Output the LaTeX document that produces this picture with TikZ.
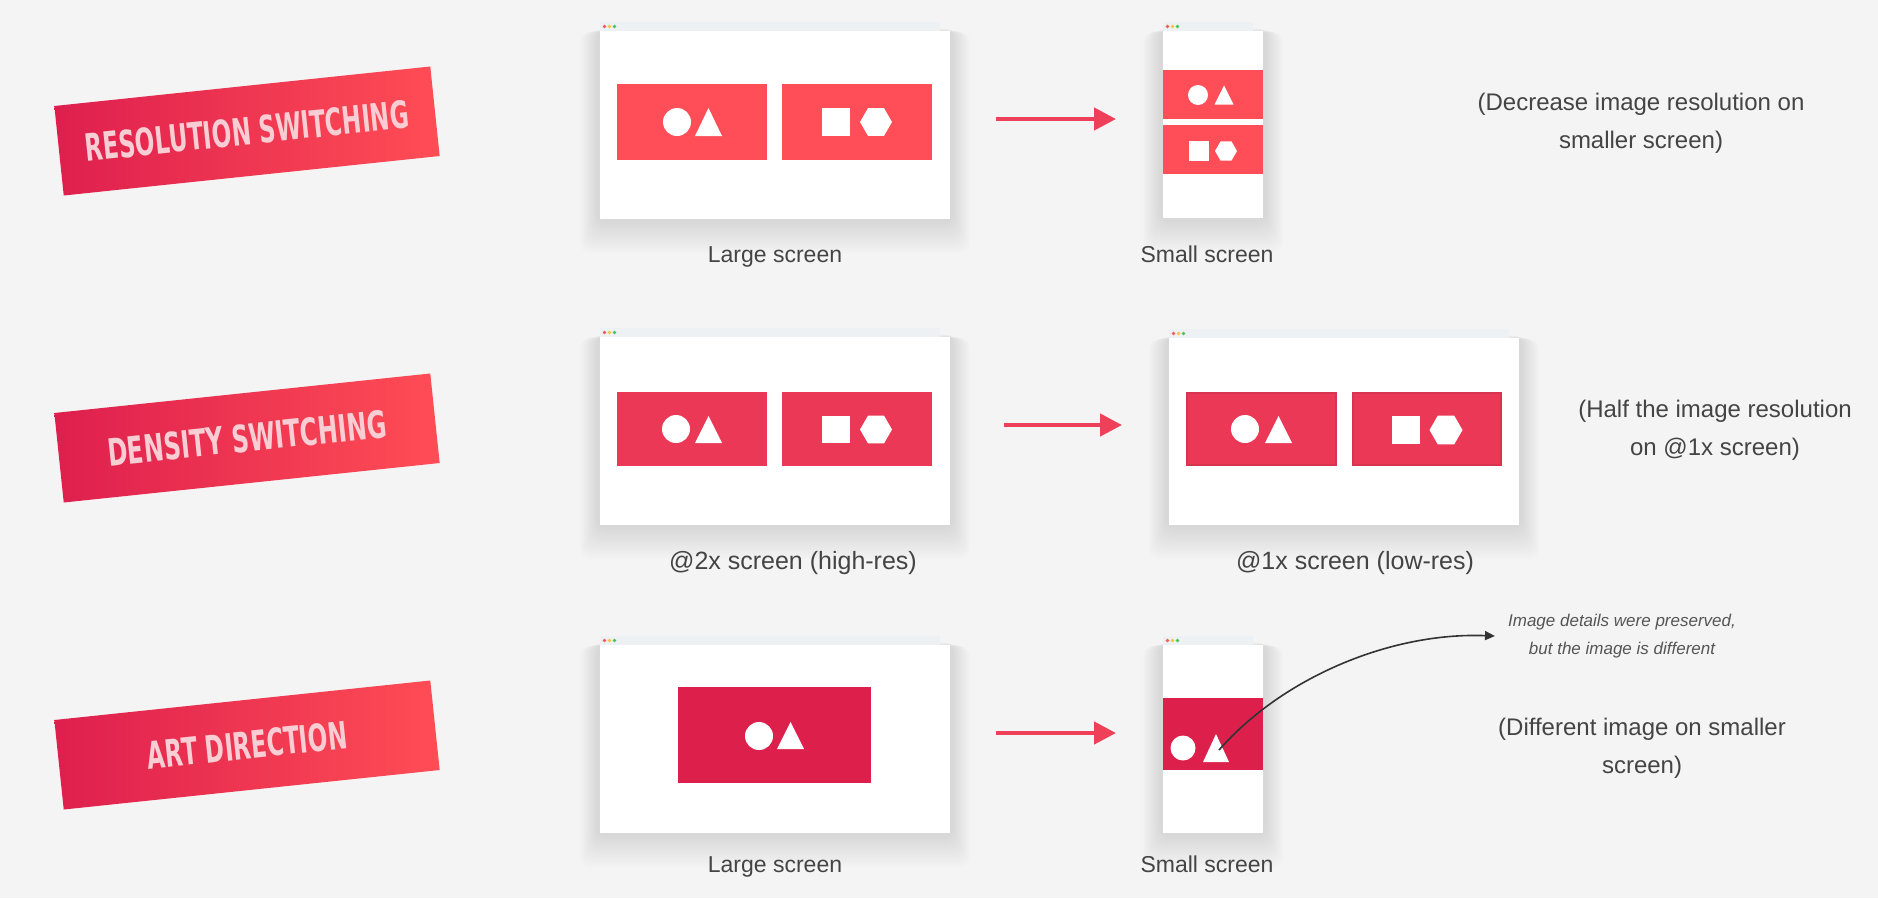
\documentclass[tikz,border=0pt]{standalone}
\usepackage{fontspec}
\usepackage{graphicx}
\setmainfont{Liberation Sans}
\newfontfamily\bannerfont{DejaVu Sans}
\usetikzlibrary{arrows.meta}

\definecolor{bg}{HTML}{F4F4F4}
\definecolor{redA}{HTML}{FF4E57}
\definecolor{redB}{HTML}{EC3857}
\definecolor{redBedge}{HTML}{D83450}
\definecolor{redC}{HTML}{DD1F4C}
\definecolor{arrowred}{HTML}{EE4058}
\definecolor{bannerL}{HTML}{DE1F4E}
\definecolor{bannerR}{HTML}{FF4D55}
\definecolor{bannertext}{HTML}{F8CDD3}
\definecolor{bartone}{HTML}{EEF1F4}
\definecolor{labelgray}{HTML}{444444}
\definecolor{notegray}{HTML}{555555}
\definecolor{dotred}{HTML}{F05A5A}
\definecolor{dotyellow}{HTML}{F5C342}
\definecolor{dotgreen}{HTML}{4CC35A}

% browser window: left, top, right, bottom
\newcommand\browser[4]{%
  \foreach \i in {1,...,14}{%
    \fill[black,opacity=0.008,rounded corners=10pt]
      (#1-2-\i*1.3,#2+6+\i*0.3) rectangle (#3+2+\i*1.3,#4+2+\i*2.3);}
  \fill[bartone] (#1,#2) rectangle (#3-10,#2+9);
  \fill[white] (#1,#2+9) rectangle (#3,#4);
  \fill[dotred] (#1+4.5,#2+4.5) circle (1.8);
  \fill[dotyellow] (#1+9.5,#2+4.5) circle (1.8);
  \fill[dotgreen] (#1+14.5,#2+4.5) circle (1.8);
}
% white picture glyphs
\newcommand\shpcirc[3]{\fill[white] (#1,#2) circle (#3);}
\newcommand\shptri[4]{\fill[white] (#1-#3/2,#2) -- (#1+#3/2,#2) -- (#1,#2-#4) -- cycle;}
\newcommand\shpsq[4]{\fill[white] (#1,#2) rectangle (#3,#4);}
\newcommand\shphex[3]{\fill[white] (#1-#3,#2) -- (#1-#3/2,#2-0.866*#3) -- (#1+#3/2,#2-0.866*#3)
  -- (#1+#3,#2) -- (#1+#3/2,#2+0.866*#3) -- (#1-#3/2,#2+0.866*#3) -- cycle;}

\begin{document}
\begin{tikzpicture}[x=1pt,y=-1pt,
  banner/.style={rotate=6, minimum width=378pt, minimum height=90pt, inner sep=0pt,
    left color=bannerL, right color=bannerR, text=bannertext},
  lbl/.style={text=labelgray, font=\fontsize{23}{28}\selectfont, inner sep=0pt, anchor=base},
  lblwide/.style={lbl, font=\fontsize{25}{30}\selectfont},
  note/.style={text=labelgray, align=center, font=\fontsize{24}{38}\selectfont, inner sep=0pt},
  aside/.style={text=notegray, align=center, font=\fontsize{17}{28}\selectfont\itshape, inner sep=13pt},
  redarrow/.style={draw=arrowred, line width=4.5pt, -{Triangle[length=22pt,width=22pt]}},
  curvearrow/.style={draw=black!80, line width=1.6pt, -{Triangle[length=10pt,width=9pt]}}]

\useasboundingbox (0,0) rectangle (1878,898);
\fill[bg] (0,0) rectangle (1878,898);

% category banners
\node[banner] (b1) at (247,131) {\resizebox{325pt}{28pt}{\bannerfont\bfseries RESOLUTION SWITCHING}};
\node[banner] (b2) at (247,438) {\resizebox{280pt}{28pt}{\bannerfont\bfseries DENSITY SWITCHING}};
\node[banner] (b3) at (247,745) {\resizebox{201pt}{28pt}{\bannerfont\bfseries ART DIRECTION}};

% ---- row 1: resolution switching
\browser{600}{22}{950}{219}
\fill[redA] (617,84) rectangle (767,160);
\fill[redA] (782,84) rectangle (932,160);
\shpcirc{677}{122}{14}
\shptri{708.5}{136}{27}{28}
\shpsq{822}{108}{850}{136}
\shphex{876}{122}{16}

\browser{1163}{22}{1263}{218}
\fill[redA] (1163,70) rectangle (1263,119);
\fill[redA] (1163,125) rectangle (1263,174);
\shpcirc{1198}{95}{10}
\shptri{1224}{104.5}{19}{19}
\shpsq{1189}{141}{1209}{161}
\shphex{1226}{151}{11}

% ---- row 2: density switching
\browser{600}{328}{950}{525}
\fill[redB] (617,392) rectangle (767,466);
\fill[redB] (782,392) rectangle (932,466);
\shpcirc{676}{429}{14}
\shptri{708.5}{443}{27}{27}
\shpsq{822}{416}{850}{443}
\shphex{876}{429.5}{16}

\browser{1169}{329}{1519}{525}
\fill[redB, draw=redBedge, line width=2pt] (1187,393) rectangle (1336,465);
\fill[redB, draw=redBedge, line width=2pt] (1353,393) rectangle (1501,465);
\shpcirc{1245}{429}{14}
\shptri{1278.5}{443}{27}{27}
\shpsq{1392}{416}{1420}{444}
\shphex{1446}{430}{16.5}

% ---- row 3: art direction
\browser{600}{636}{950}{833}
\fill[redC] (678,687) rectangle (871,783);
\shpcirc{759}{736}{14}
\shptri{790.5}{749}{27}{27}

\browser{1163}{636}{1263}{833}
\fill[redC] (1163,698) rectangle (1263,770);
\shpcirc{1183}{748}{12.5}
\shptri{1216}{762}{26}{28}

% captions under the windows
\node[lbl] (l1a) at (775,262) {Large screen};
\node[lbl] (l1b) at (1207,262) {Small screen};
\node[lblwide] (l2a) at (793,569) {@2x screen (high-res)};
\node[lblwide] (l2b) at (1355,569) {@1x screen (low-res)};
\node[lbl] (l3a) at (775,872) {Large screen};
\node[lbl] (l3b) at (1207,872) {Small screen};

% explanations on the right
\node[note] (n1) at (1641,123) {(Decrease image resolution on\\smaller screen)};
\node[note] (n2) at (1715,430) {(Half the image resolution\\on @1x screen)};
\node[note] (n3) at (1642,748) {(Different image on smaller\\screen)};
\node[aside] (n4) at (1622,636) {Image details were preserved,\\but the image is different};

% arrows
\coordinate (a1s) at (996,119);  \coordinate (a1e) at (1116,119);
\coordinate (a2s) at (1004,425); \coordinate (a2e) at (1122,425);
\coordinate (a3s) at (996,733);  \coordinate (a3e) at (1116,733);
\draw[redarrow] (a1s) -- (a1e);
\draw[redarrow] (a2s) -- (a2e);
\draw[redarrow] (a3s) -- (a3e);

\coordinate (t3) at (1219,750);
\draw[curvearrow] (t3) .. controls (1282,678) and (1390,632) .. (n4.west);
\end{tikzpicture}
\end{document}
